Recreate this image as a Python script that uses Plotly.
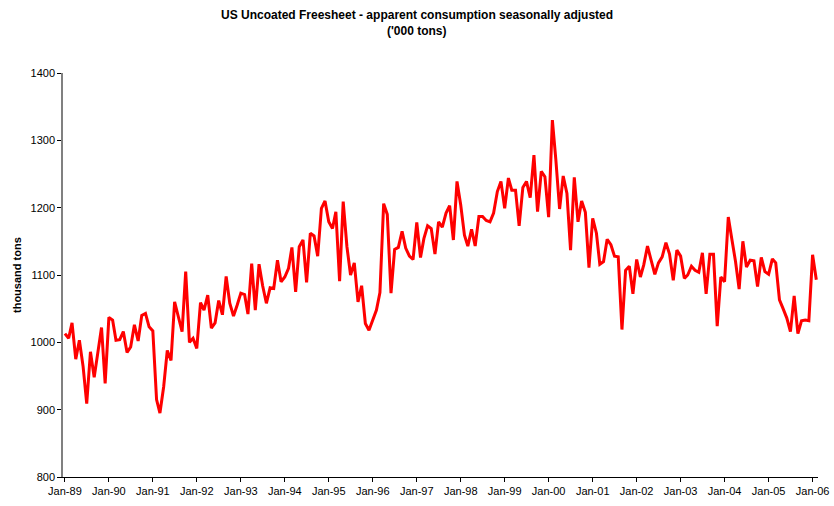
import pandas as pd
import plotly.graph_objects as go

start_month = "1989-01-01"
values = [
    1013, 1006, 1029, 975, 1003, 964, 909, 986, 948, 986, 1022, 939,
    1037, 1033, 1003, 1004, 1016, 985, 993, 1026, 1002, 1040, 1043, 1023,
    1017, 915, 895, 934, 988, 973, 1060, 1038, 1016, 1105, 1000, 1006,
    991, 1059, 1048, 1070, 1021, 1029, 1062, 1041, 1098, 1058, 1039, 1055,
    1073, 1071, 1042, 1117, 1048, 1116, 1084, 1058, 1081, 1080, 1122, 1090,
    1097, 1110, 1141, 1075, 1142, 1152, 1089, 1162, 1158, 1128, 1199, 1210,
    1179, 1169, 1194, 1091, 1209, 1142, 1100, 1118, 1060, 1084, 1028, 1018,
    1033, 1048, 1074, 1206, 1190, 1073, 1138, 1141, 1165, 1140, 1128, 1123,
    1178, 1126, 1154, 1173, 1169, 1131, 1179, 1171, 1192, 1203, 1152, 1239,
    1204, 1159, 1143, 1168, 1143, 1187, 1187, 1181, 1179, 1192, 1224, 1239,
    1199, 1244, 1226, 1226, 1173, 1230, 1239, 1215, 1278, 1194, 1254, 1246,
    1186, 1330, 1271, 1198, 1247, 1221, 1137, 1245, 1179, 1210, 1193, 1111,
    1184, 1162, 1116, 1120, 1153, 1145, 1128, 1127, 1019, 1107, 1113, 1072,
    1123, 1097, 1115, 1143, 1122, 1101, 1118, 1127, 1148, 1131, 1092, 1137,
    1128, 1095, 1100, 1113, 1107, 1104, 1133, 1072, 1131, 1131, 1024, 1097,
    1090, 1186, 1154, 1120, 1079, 1150, 1112, 1122, 1121, 1083, 1126, 1105,
    1101, 1124, 1118, 1063, 1050, 1036, 1016, 1069, 1013, 1032, 1033, 1032,
    1130, 1093,
]
dates = pd.date_range(start_month, periods=len(values), freq="MS")

title_line1 = "US Uncoated Freesheet - apparent consumption seasonally adjusted"
title_line2 = "('000 tons)"
y_title = "thousand tons"
y_ticks = [800, 900, 1000, 1100, 1200, 1300, 1400]

font_family = "Liberation Sans, Arial, sans-serif"

fig = go.Figure()
fig.add_trace(go.Scatter(
    x=dates, y=values, mode="lines",
    line=dict(color="#FF0000", width=3),
    hoverinfo="x+y",
))

fig.update_layout(
    width=834, height=506,
    paper_bgcolor="white", plot_bgcolor="white",
    margin=dict(l=63, r=16, t=73, b=29, autoexpand=False),
    showlegend=False,
    font=dict(family=font_family, size=11, color="black"),
    annotations=[
        dict(text=f"<b>{title_line1}</b>", xref="paper", yref="paper",
             x=0.469, y=(477 - 15) / 404, xanchor="center", yanchor="middle",
             showarrow=False, font=dict(size=12, color="black")),
        dict(text=f"<b>{title_line2}</b>", xref="paper", yref="paper",
             x=0.469, y=(477 - 31) / 404, xanchor="center", yanchor="middle",
             showarrow=False, font=dict(size=12, color="black")),
        dict(text=f"<b>{y_title}</b>", xref="paper", yref="paper",
             x=-(63 - 17) / 755, y=0.5, xanchor="center", yanchor="middle",
             textangle=-90, showarrow=False, font=dict(size=11, color="black")),
    ],
)

fig.update_xaxes(
    type="date",
    range=["1988-12-16", "2006-02-15"],
    tickformat="%b-%y",
    dtick="M12",
    tick0="1989-01-01",
    ticks="outside", ticklen=4, tickcolor="black",
    showline=True, linecolor="black", linewidth=1,
    showgrid=False, zeroline=False, automargin=False,
    tickfont=dict(size=11, color="black"),
)
fig.update_yaxes(
    range=[800, 1400],
    tickvals=y_ticks,
    ticks="outside", ticklen=4, tickcolor="black",
    showline=True, linecolor="#808080", linewidth=1.5,
    showgrid=False, zeroline=False, automargin=False,
    tickfont=dict(size=11, color="black"),
)

fig.write_html(
    "out.html",
    config={"displayModeBar": False},
    post_script="document.body.style.margin='0';document.body.style.overflow='hidden';",
)
